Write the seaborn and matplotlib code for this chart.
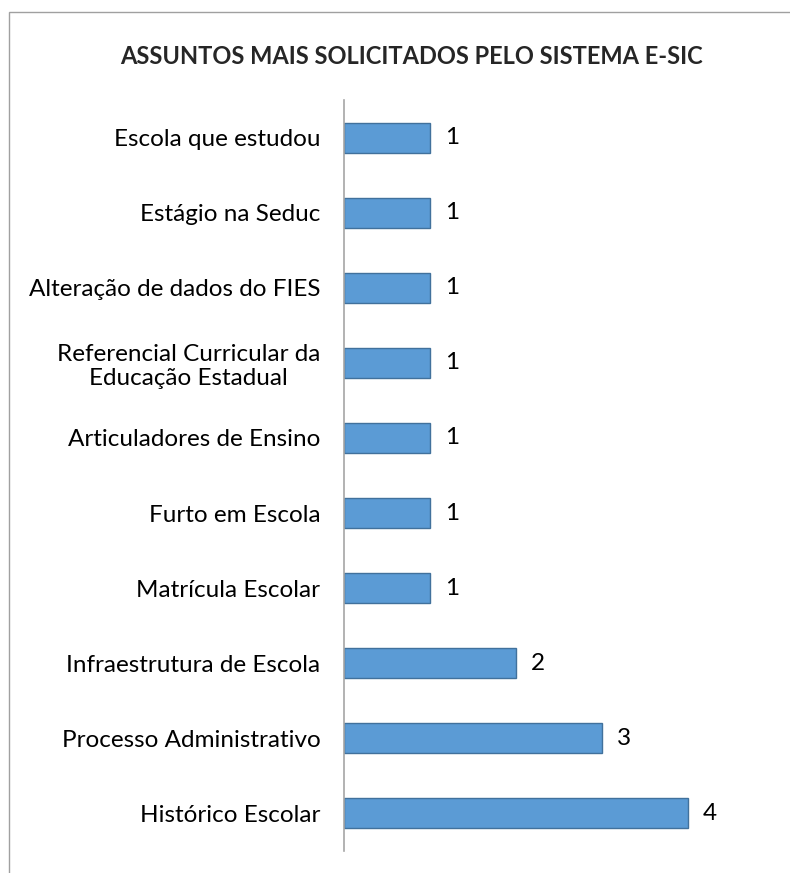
import matplotlib
matplotlib.use("Agg")
import matplotlib.pyplot as plt
import seaborn as sns
import pandas as pd
from matplotlib.patches import Rectangle

categories = ["Escola que estudou", "Estágio na Seduc", "Alteração de dados do FIES",
              "Referencial Curricular da\nEducação Estadual", "Articuladores de Ensino",
              "Furto em Escola", "Matrícula Escolar", "Infraestrutura de Escola",
              "Processo Administrativo", "Histórico Escolar"]
values = [1, 1, 1, 1, 1, 1, 1, 2, 3, 4]
title = "ASSUNTOS MAIS SOLICITADOS PELO SISTEMA E-SIC"

sns.set_style("white")
plt.rcParams['font.family'] = ['Lato', 'DejaVu Sans']

df = pd.DataFrame({"cat": categories, "val": values})

fig = plt.figure(figsize=(7.9, 8.73), dpi=100)
ax = fig.add_axes([344/790, 1-851/873, (774-344)/790, (851-100)/873])

sns.barplot(data=df, y="cat", x="val", orient="h", color="#5B9BD5",
            edgecolor="#41719C", linewidth=1.0, width=0.4, saturation=1, ax=ax)

ax.set_xlim(0, 5)
ax.set_ylim(9.5, -0.5)
ax.set_xlabel("")
ax.set_ylabel("")
ax.set_xticks([])
for s in ["top", "right", "bottom"]:
    ax.spines[s].set_visible(False)
ax.spines["left"].set_color("#A6A6A6")
ax.spines["left"].set_linewidth(1.2)
ax.tick_params(axis="y", length=0, pad=17, labelsize=17.5, labelcolor="#000000")
for lab in ax.get_yticklabels():
    lab.set_horizontalalignment("right")
    lab.set_multialignment("center")
    lab.set_linespacing(1.2)

for i, v in enumerate(values):
    ax.text(v + 0.17, i, str(v), va="center", ha="left", fontsize=17.5, color="#000000")

fig.text(412/790, 1-56/873, title, ha="center", va="center", fontsize=17, fontweight="bold")

fig.patches.append(Rectangle((8.5/790, -0.1), 1.2, 1-12.5/873 + 0.1, transform=fig.transFigure,
                             fill=False, edgecolor="#A0A0A0", linewidth=1.0, figure=fig))

fig.savefig("out.png", dpi=100)
